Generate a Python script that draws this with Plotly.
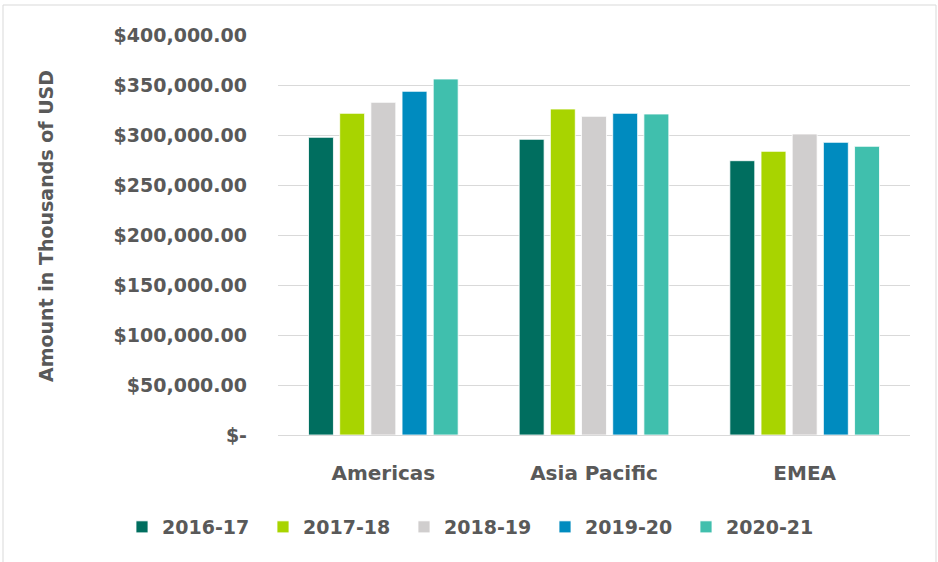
import plotly.graph_objects as go

regions = ["Americas", "Asia Pacific", "EMEA"]
years = ["2016-17", "2017-18", "2018-19", "2019-20", "2020-21"]
v_2016_17 = [297700, 295700, 274300]
v_2017_18 = [321700, 326000, 283700]
v_2018_19 = [332700, 318700, 301000]
v_2019_20 = [343700, 321700, 292700]
v_2020_21 = [356000, 321000, 288700]
series = [v_2016_17, v_2017_18, v_2018_19, v_2019_20, v_2020_21]
colors = ["#006E5F", "#A8D400", "#D0CECE", "#008BBF", "#40BFAD"]

tick_vals = [0, 50000, 100000, 150000, 200000, 250000, 300000, 350000, 400000]
tick_text = ["$-", "$50,000.00", "$100,000.00", "$150,000.00", "$200,000.00",
             "$250,000.00", "$300,000.00", "$350,000.00", "$400,000.00"]

FONT = "DejaVu Sans"
GRAY = "#595959"

fig = go.Figure()
for name, vals, col in zip(years, series, colors):
    fig.add_trace(go.Bar(
        x=regions, y=vals, name=name,
        marker=dict(color=col, line=dict(color="rgba(255,255,255,0.8)", width=1)),
    ))

L, R, T, B = 278, 28, 35, 127
W, H = 938, 562
pw = W - L - R
ph = H - T - B

fig.update_layout(
    width=W, height=H,
    margin=dict(l=L, r=R, t=T, b=B),
    paper_bgcolor="white", plot_bgcolor="white",
    barmode="group", bargap=0.26, bargroupgap=0.2,
    font=dict(family=FONT, color=GRAY, size=17),
    showlegend=True,
    legend=dict(orientation="h", x=(122 - L) / pw, xanchor="left",
                y=(ph - (527 - T)) / ph, yanchor="middle",
                bgcolor="rgba(0,0,0,0)",
                font=dict(family=FONT, size=19, color=GRAY, weight="bold"),
                entrywidth=96, traceorder="normal"),
    xaxis=dict(showgrid=False, showline=True, linecolor="#D9D9D9", linewidth=1,
               ticks="", ticklabelstandoff=20,
               tickfont=dict(family=FONT, size=20, color=GRAY, weight="bold")),
    yaxis=dict(range=[0, 400000], tickvals=tick_vals, ticktext=tick_text,
               showgrid=True, gridcolor="#D9D9D9", gridwidth=1,
               zeroline=True, zerolinecolor="#D9D9D9", zerolinewidth=1,
               showline=False, ticks="", ticklabelstandoff=30,
               tickfont=dict(family=FONT, size=19, color=GRAY, weight="bold")),
    annotations=[dict(text="Amount in Thousands of USD", textangle=-90,
                      xref="paper", yref="paper",
                      x=(46 - L) / pw, y=(ph - (226 - T)) / ph,
                      xanchor="center", yanchor="middle", showarrow=False,
                      font=dict(family=FONT, size=19, color=GRAY, weight="bold"))],
    shapes=[dict(type="rect", xref="paper", yref="paper",
                 x0=(3 - L) / pw, x1=(936 - L) / pw,
                 y0=(ph - (575 - T)) / ph, y1=(ph - (5 - T)) / ph,
                 line=dict(color="#D9D9D9", width=1), fillcolor="rgba(0,0,0,0)",
                 layer="below")],
)

fig.write_html("out.html", config={"displayModeBar": False},
               post_script="document.body.style.margin='0';")
